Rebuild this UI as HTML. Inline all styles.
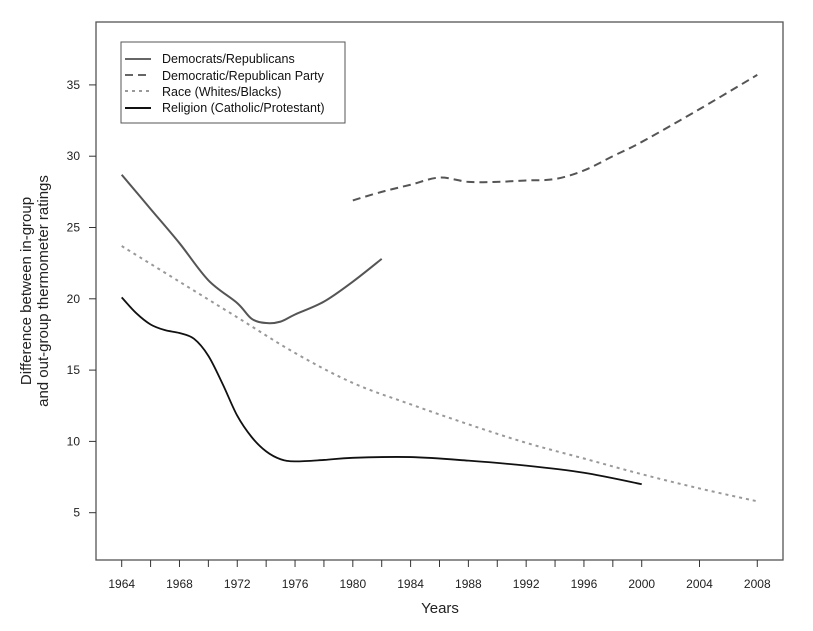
<!DOCTYPE html>
<html><head><meta charset="utf-8"><style>
html,body{margin:0;padding:0;background:#fff;}
svg{display:block;font-family:"Liberation Sans",Arial,sans-serif;}
</style></head><body>
<svg id="s" width="813" height="631" viewBox="0 0 813 631" xmlns="http://www.w3.org/2000/svg">
<rect x="96" y="22" width="687" height="538" fill="none" stroke="#555" stroke-width="1.3"/>
<g id="ticks" stroke="#333" stroke-width="1"></g>
<g id="labels" font-size="12" fill="#222"></g>
<text x="440" y="613" font-size="15" text-anchor="middle" fill="#222">Years</text>
<text transform="translate(31,291) rotate(-90)" font-size="15" text-anchor="middle" fill="#222">Difference between in-group</text>
<text transform="translate(48,291) rotate(-90)" font-size="15" text-anchor="middle" fill="#222">and out-group thermometer ratings</text>
<g id="series" fill="none"></g>
<rect x="121" y="42" width="224" height="81" fill="#fff" stroke="#555" stroke-width="1"/>
<line x1="125" y1="59" x2="151" y2="59" stroke="#666" stroke-width="2"/>
<line x1="125" y1="75" x2="151" y2="75" stroke="#666" stroke-width="2" stroke-dasharray="8,5"/>
<line x1="125" y1="91" x2="151" y2="91" stroke="#999" stroke-width="2" stroke-dasharray="3,4"/>
<line x1="125" y1="108" x2="151" y2="108" stroke="#111" stroke-width="2"/>
<g font-size="12.5" fill="#111">
<text x="162" y="63">Democrats/Republicans</text>
<text x="162" y="80">Democratic/Republican Party</text>
<text x="162" y="96">Race (Whites/Blacks)</text>
<text x="162" y="112">Religion (Catholic/Protestant)</text>
</g>
</svg>
<script>
const X=y=>121.7+(y-1964)*14.445, Y=v=>512.7-(v-5)*14.26;
const ns="http://www.w3.org/2000/svg";
function el(p,t,a,txt){const e=document.createElementNS(ns,t);for(const k in a)e.setAttribute(k,a[k]);if(txt)e.textContent=txt;document.getElementById(p).appendChild(e);}
let yrs=[];for(let y=1964;y<=2000;y+=2)yrs.push(y);yrs.push(2004,2008);
yrs.forEach(y=>el("ticks","line",{x1:X(y),y1:560,x2:X(y),y2:567}));
for(let y=1964;y<=2008;y+=4)el("labels","text",{x:X(y),y:588,"text-anchor":"middle"},String(y));
[5,10,15,20,25,30,35].forEach(v=>{el("ticks","line",{x1:89,y1:Y(v),x2:96,y2:Y(v)});el("labels","text",{x:80,y:Y(v)+4,"text-anchor":"end"},String(v));});
function path(d){ // catmull-rom
 const p=d.map(a=>[X(a[0]),Y(a[1])]);let s="M"+p[0];
 for(let i=0;i<p.length-1;i++){const a=p[i-1]||p[i],b=p[i],c=p[i+1],e=p[i+2]||c;
  s+=" C"+(b[0]+(c[0]-a[0])/6)+","+(b[1]+(c[1]-a[1])/6)+" "+(c[0]-(e[0]-b[0])/6)+","+(c[1]-(e[1]-b[1])/6)+" "+c[0]+","+c[1];}
 return s;}
const dr=[[1964,28.7],[1966,26.3],[1968,23.9],[1970,21.3],[1972,19.7],[1973,18.6],[1974,18.3],[1975,18.4],[1976,18.9],[1978,19.8],[1980,21.2],[1982,22.8]];
const pa=[[1980,26.9],[1982,27.5],[1984,28.0],[1986,28.5],[1988,28.2],[1990,28.2],[1992,28.3],[1994,28.4],[1996,29.0],[1998,30.0],[2000,31.0],[2004,33.3],[2008,35.7]];
const ra=[[1964,23.7],[1968,21.2],[1972,18.7],[1976,16.2],[1980,14.1],[1984,12.6],[1988,11.2],[1992,9.9],[1996,8.8],[2000,7.7],[2004,6.7],[2008,5.8]];
const re=[[1964,20.1],[1965,19.0],[1966,18.2],[1967,17.8],[1968,17.6],[1969,17.2],[1970,16.0],[1971,14.0],[1972,11.8],[1973,10.3],[1974,9.3],[1975,8.75],[1976,8.6],[1978,8.7],[1980,8.85],[1984,8.9],[1988,8.65],[1992,8.3],[1996,7.8],[2000,7.0]];
el("series","path",{d:path(ra),stroke:"#999","stroke-width":2,"stroke-dasharray":"3,4"});
el("series","path",{d:path(pa),stroke:"#555","stroke-width":2,"stroke-dasharray":"8,5"});
el("series","path",{d:path(dr),stroke:"#555","stroke-width":2});
el("series","path",{d:path(re),stroke:"#111","stroke-width":1.8});
</script>
</body></html>
